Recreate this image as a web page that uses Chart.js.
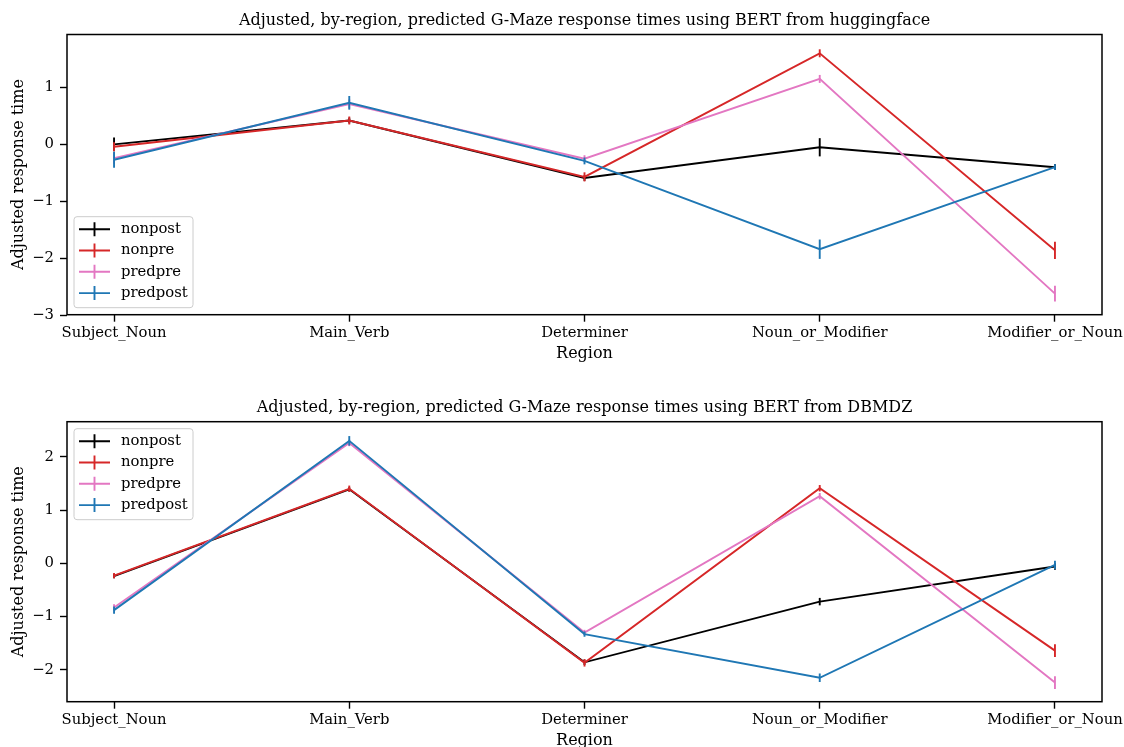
<!DOCTYPE html>
<html>
<head>
<meta charset="utf-8">
<script src="https://cdn.jsdelivr.net/npm/chart.js@4.4.1/dist/chart.umd.min.js"></script>
<style>
  html, body { margin: 0; padding: 0; background: #fff; width: 1124px; height: 747px; overflow: hidden; }
  .panel { position: absolute; left: 0; width: 1124px; }
  #panelTop { top: 0; height: 373px; }
  #panelBottom { top: 373px; height: 390px; }
  canvas { display: block; }
</style>
</head>
<body>
<div class="panel" id="panelTop"><canvas id="chartHF" width="1124" height="373"></canvas></div>
<div class="panel" id="panelBottom"><canvas id="chartDBMDZ" width="1124" height="390"></canvas></div>
<script>
// Regions along the x axis
const regions = ['Subject_Noun', 'Main_Verb', 'Determiner', 'Noun_or_Modifier', 'Modifier_or_Noun'];
const seriesNames = ['nonpost', 'nonpre', 'predpre', 'predpost'];

// BERT from huggingface: mean adjusted response time per region
const hfNonpost  = [0.00, 0.42, -0.59, -0.05, -0.40];
const hfNonpre   = [-0.04, 0.42, -0.57, 1.60, -1.86];
const hfPredpre  = [-0.24, 0.71, -0.25, 1.15, -2.62];
const hfPredpost = [-0.27, 0.73, -0.29, -1.84, -0.40];
// half-width of the error bars
const hfNonpostErr  = [0.12, 0.05, 0.05, 0.16, 0.05];
const hfNonpreErr   = [0.08, 0.07, 0.08, 0.07, 0.15];
const hfPredpreErr  = [0.10, 0.08, 0.06, 0.07, 0.14];
const hfPredpostErr = [0.14, 0.12, 0.06, 0.17, 0.05];
const hfTicks = [-3, -2, -1, 0, 1];

// BERT from DBMDZ
const dbNonpost  = [-0.24, 1.39, -1.86, -0.72, -0.06];
const dbNonpre   = [-0.23, 1.40, -1.87, 1.41, -1.64];
const dbPredpre  = [-0.83, 2.26, -1.30, 1.26, -2.24];
const dbPredpost = [-0.88, 2.30, -1.33, -2.15, -0.03];
const dbNonpostErr  = [0.04, 0.04, 0.05, 0.07, 0.06];
const dbNonpreErr   = [0.05, 0.06, 0.07, 0.06, 0.12];
const dbPredpreErr  = [0.06, 0.06, 0.05, 0.06, 0.12];
const dbPredpostErr = [0.07, 0.09, 0.05, 0.08, 0.08];
const dbTicks = [-2, -1, 0, 1, 2];

const seriesColors = ['#000000', '#d62728', '#e377c2', '#1f77b4'];
const FAMILY = "'DejaVu Serif', serif";
const TITLE_FONT = { family: FAMILY, size: 16, weight: 'normal' };
const LABEL_FONT = { family: FAMILY, size: 16, weight: 'normal' };
const TICK_FONT  = { family: FAMILY, size: 14.8, weight: 'normal' };
const LEGEND_FONT_SIZE = 14.8;

const fmtTick = v => (v < 0 ? '\u2212' + Math.abs(v) : String(v));

// vertical error bars, drawn right after each line so layering follows series order
const errorBars = {
  id: 'errorBars',
  afterDatasetDraw(chart, args) {
    const ds = chart.data.datasets[args.index];
    if (!ds.errors) return;
    const xs = chart.scales.x, ys = chart.scales.y, ctx = chart.ctx;
    ctx.save();
    ctx.strokeStyle = ds.borderColor;
    ctx.lineWidth = ds.borderWidth;
    ds.data.forEach((p, j) => {
      const e = ds.errors[j];
      const x = xs.getPixelForValue(p.x);
      ctx.beginPath();
      ctx.moveTo(x, ys.getPixelForValue(p.y - e));
      ctx.lineTo(x, ys.getPixelForValue(p.y + e));
      ctx.stroke();
    });
    ctx.restore();
  }
};

// axes frame and the boxed legend inside the plot area
const frameAndLegend = {
  id: 'frameAndLegend',
  afterDraw(chart, args, opts) {
    const ctx = chart.ctx, a = chart.chartArea;
    ctx.save();
    ctx.strokeStyle = '#000';
    ctx.lineWidth = 1.5;
    ctx.strokeRect(a.left, a.top, a.right - a.left, a.bottom - a.top);

    const w = 119, h = 91, pad = 7, r = 3;
    const x0 = a.left + pad;
    const y0 = opts.corner === 'lower left' ? a.bottom - pad - h : a.top + pad;
    ctx.beginPath();
    ctx.moveTo(x0 + r, y0);
    ctx.arcTo(x0 + w, y0, x0 + w, y0 + h, r);
    ctx.arcTo(x0 + w, y0 + h, x0, y0 + h, r);
    ctx.arcTo(x0, y0 + h, x0, y0, r);
    ctx.arcTo(x0, y0, x0 + w, y0, r);
    ctx.closePath();
    ctx.fillStyle = 'rgba(255,255,255,0.8)';
    ctx.fill();
    ctx.strokeStyle = '#cccccc';
    ctx.lineWidth = 1;
    ctx.stroke();

    ctx.font = `${LEGEND_FONT_SIZE}px ${FAMILY}`;
    ctx.textBaseline = 'middle';
    ctx.textAlign = 'left';
    chart.data.datasets.forEach((ds, i) => {
      const cy = y0 + 12.5 + i * 21.3;
      ctx.strokeStyle = ds.borderColor;
      ctx.lineWidth = ds.borderWidth;
      ctx.beginPath();
      ctx.moveTo(x0 + 5, cy); ctx.lineTo(x0 + 36, cy);
      ctx.moveTo(x0 + 20.5, cy - 7); ctx.lineTo(x0 + 20.5, cy + 7);
      ctx.stroke();
      ctx.fillStyle = '#000';
      ctx.fillText(ds.label, x0 + 47, cy);
    });
    ctx.restore();
  }
};

function buildChart(canvasId, titleText, values, errors, yTickValues, yMin, yMax, geo) {
  const datasets = seriesNames.map((name, i) => ({
    label: name,
    data: values[i].map((v, j) => ({ x: j, y: v })),
    errors: errors[i],
    borderColor: seriesColors[i],
    backgroundColor: seriesColors[i],
    borderWidth: 1.9,
    pointRadius: 0,
    pointHoverRadius: 0,
    tension: 0,
    fill: false,
    order: seriesNames.length - i
  }));
  const tickGrid = { drawOnChartArea: false, drawTicks: true, tickLength: 7, tickColor: '#000', tickWidth: 1.4 };
  return new Chart(document.getElementById(canvasId), {
    type: 'line',
    data: { datasets },
    plugins: [errorBars, frameAndLegend],
    options: {
      responsive: false,
      animation: false,
      events: [],
      layout: { padding: { left: 0, right: 22, top: 0, bottom: 0 } },
      plugins: {
        legend: { display: false },
        tooltip: { enabled: false },
        title: {
          display: true, text: titleText, color: '#000', font: TITLE_FONT,
          fullSize: false,
          padding: { top: geo.titleTop, bottom: geo.titleBottom }
        },
        frameAndLegend: { corner: geo.legendCorner }
      },
      scales: {
        x: {
          type: 'linear', min: -0.2, max: 4.2,
          afterBuildTicks: s => { s.ticks = regions.map((_, j) => ({ value: j })); },
          afterFit: s => { s.height = geo.xAxisHeight; s.paddingLeft = 0; s.paddingRight = 0; },
          ticks: { autoSkip: false, maxRotation: 0, color: '#000', font: TICK_FONT, padding: 3,
                   callback: v => regions[v] ?? '' },
          grid: tickGrid,
          border: { display: false },
          title: { display: true, text: 'Region', color: '#000', font: LABEL_FONT,
                   padding: { top: 0, bottom: geo.xTitleBottom } }
        },
        y: {
          type: 'linear', min: yMin, max: yMax,
          afterBuildTicks: s => { s.ticks = yTickValues.map(v => ({ value: v })); },
          afterFit: s => { s.width = 67; s.paddingTop = 0; s.paddingBottom = 0; },
          ticks: { color: '#000', font: TICK_FONT, padding: 6, callback: v => fmtTick(v) },
          grid: tickGrid,
          border: { display: false },
          title: { display: true, text: 'Adjusted response time', color: '#000', font: LABEL_FONT,
                   padding: { top: 9.4, bottom: 0 } }
        }
      }
    }
  });
}

buildChart('chartHF',
  'Adjusted, by-region, predicted G-Maze response times using BERT from huggingface',
  [hfNonpost, hfNonpre, hfPredpre, hfPredpost],
  [hfNonpostErr, hfNonpreErr, hfPredpreErr, hfPredpostErr],
  hfTicks, -2.99, 1.93,
  { titleTop: 10.9, titleBottom: 4.4, xAxisHeight: 58.3, xTitleBottom: 9.4, legendCorner: 'lower left' });

buildChart('chartDBMDZ',
  'Adjusted, by-region, predicted G-Maze response times using BERT from DBMDZ',
  [dbNonpost, dbNonpre, dbPredpre, dbPredpost],
  [dbNonpostErr, dbNonpreErr, dbPredpreErr, dbPredpostErr],
  dbTicks, -2.60, 2.66,
  { titleTop: 25.4, titleBottom: 4.1, xAxisHeight: 61.3, xTitleBottom: 12.4, legendCorner: 'upper left' });
</script>
</body>
</html>
